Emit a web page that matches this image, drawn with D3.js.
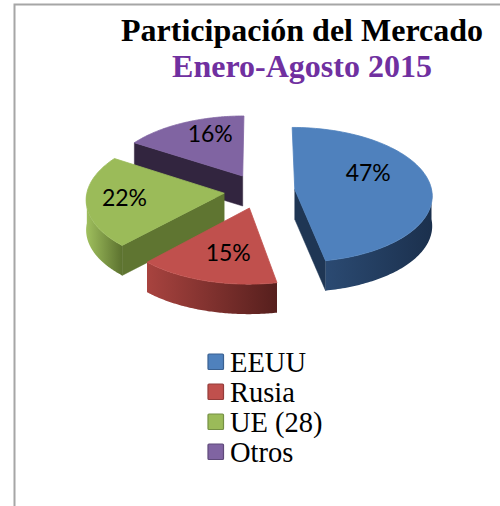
<!DOCTYPE html>
<html><head><meta charset="utf-8">
<script src="https://cdn.jsdelivr.net/npm/d3@7"></script>
<style>html,body{margin:0;padding:0;background:#fff}svg{display:block}</style>
</head><body><svg id="c" width="500" height="506"></svg>
<script>
const categories = ["EEUU", "Rusia", "UE (28)", "Otros"];
const values = [47, 15, 22, 16];
const titleLines = ["Participación del Mercado", "Enero-Agosto 2015"];
const topColors = ["#4f81bd", "#c0504d", "#9bbb59", "#8064a2"];
const faceColors = ["#1f3654", "#6a2725", "#5f7531", "#32253f"];
const wallFrom = ["#2b4a72", "#a8433f", "#a0c05e", "#4a3a5e"];
const wallTo = ["#1b304d", "#561f1d", "#5c722f", "#32253f"];
const legendEdges = ["#3a6191", "#943c3a", "#759044", "#5f4a7a"];
const labelNudgeX = [-5, 3, -20, 3];
const labelNudgeY = [-13, 4, 0, -10];

const svg = d3.select("#c"), W = 500, H = 506;
svg.append("path").attr("d", `M${W},4.5H14.5V${H}`).attr("fill", "none").attr("stroke", "#a6a6a6").attr("stroke-width", 2);

const cx = 259.5, cy = 191, R = 137, tilt = 0.49, persp = 0.08, explode = 35.5, depth = 30;
const pie = d3.pie().sort(null).startAngle(0).endAngle(2 * Math.PI);
const arcs = pie(values);
// project a point of the tilted disc (a: clockwise from 12 o'clock, r in px) to the screen
function P(ox, oy, a, r, z) {
  const X = ox + r * Math.sin(a), Y = oy + r * Math.cos(a);
  const s = 1 / (1 + persp * Y / R);
  return [cx + s * X, cy - s * tilt * Y + (z || 0)];
}
const line = d3.line();
const defs = svg.append("defs");
values.forEach((v, i) => {
  const g = defs.append("linearGradient").attr("id", "w" + i);
  g.append("stop").attr("offset", 0).attr("stop-color", wallFrom[i]);
  g.append("stop").attr("offset", 1).attr("stop-color", wallTo[i]);
});
const drawOrder = [3, 2, 1, 0];
const steps = 80;
drawOrder.forEach(i => {
  const d = arcs[i], mid = (d.startAngle + d.endAngle) / 2;
  const ox = explode * Math.sin(mid), oy = explode * Math.cos(mid);
  const arcPts = (a0, a1, z) => d3.range(steps + 1).map(k => P(ox, oy, a0 + (a1 - a0) * k / steps, R, z));
  const g = svg.append("g");
  // radial faces that look toward the viewer
  [[d.startAngle, d.startAngle - Math.PI / 2], [d.endAngle, d.endAngle + Math.PI / 2]].forEach(([a, n]) => {
    if (Math.cos(n) < -0.01) {
      const poly = [P(ox, oy, a, 0, 0), P(ox, oy, a, R, 0), P(ox, oy, a, R, depth), P(ox, oy, a, 0, depth)];
      g.append("path").attr("d", line(poly) + "Z").attr("fill", faceColors[i]).attr("stroke", faceColors[i]).attr("stroke-width", .5);
    }
  });
  // outer rounded wall, front half only
  const a0 = Math.max(d.startAngle, Math.PI / 2), a1 = Math.min(d.endAngle, 3 * Math.PI / 2);
  if (a1 > a0) {
    const poly = arcPts(a0, a1, 0).concat(arcPts(a0, a1, depth).reverse());
    g.append("path").attr("d", line(poly) + "Z").attr("fill", `url(#w${i})`);
  }
  // top face
  const top = [P(ox, oy, 0, 0, 0)].concat(arcPts(d.startAngle, d.endAngle, 0));
  g.append("path").attr("d", line(top) + "Z").attr("fill", topColors[i]).attr("stroke", topColors[i]).attr("stroke-width", .8).attr("stroke-linejoin", "round");
});
// data labels
arcs.forEach((d, i) => {
  const mid = (d.startAngle + d.endAngle) / 2;
  const ox = explode * Math.sin(mid), oy = explode * Math.cos(mid);
  const p = P(ox, oy, mid, R * 0.58, 0);
  svg.append("text").attr("x", p[0] + labelNudgeX[i]).attr("y", p[1] + labelNudgeY[i]).attr("dy", ".35em").attr("text-anchor", "middle")
    .attr("font-family", "Lato, 'Open Sans', sans-serif").attr("font-size", 23).attr("fill", "#000").text(d.data + "%");
});
// title
svg.append("text").attr("x", 302).attr("y", 41).attr("text-anchor", "middle").attr("font-family", "'Liberation Serif', serif")
  .attr("font-weight", "bold").attr("font-size", 32).attr("fill", "#000").text(titleLines[0]);
svg.append("text").attr("x", 302).attr("y", 77).attr("text-anchor", "middle").attr("font-family", "'Liberation Serif', serif")
  .attr("font-weight", "bold").attr("font-size", 32).attr("fill", "#7030a0").text(titleLines[1]);
// legend
const ly = d3.scalePoint().domain(categories).range([362, 452]);
categories.forEach((c, i) => {
  svg.append("rect").attr("x", 208).attr("y", ly(c) - 8).attr("width", 15.5).attr("height", 15.5).attr("rx", 1)
    .attr("fill", topColors[i]).attr("stroke", legendEdges[i]).attr("stroke-width", 1.2);
  svg.append("text").attr("x", 230).attr("y", ly(c) + 10).attr("font-family", "'Liberation Serif', serif").attr("font-size", 28.5).attr("fill", "#000").text(c);
});
</script></body></html>
